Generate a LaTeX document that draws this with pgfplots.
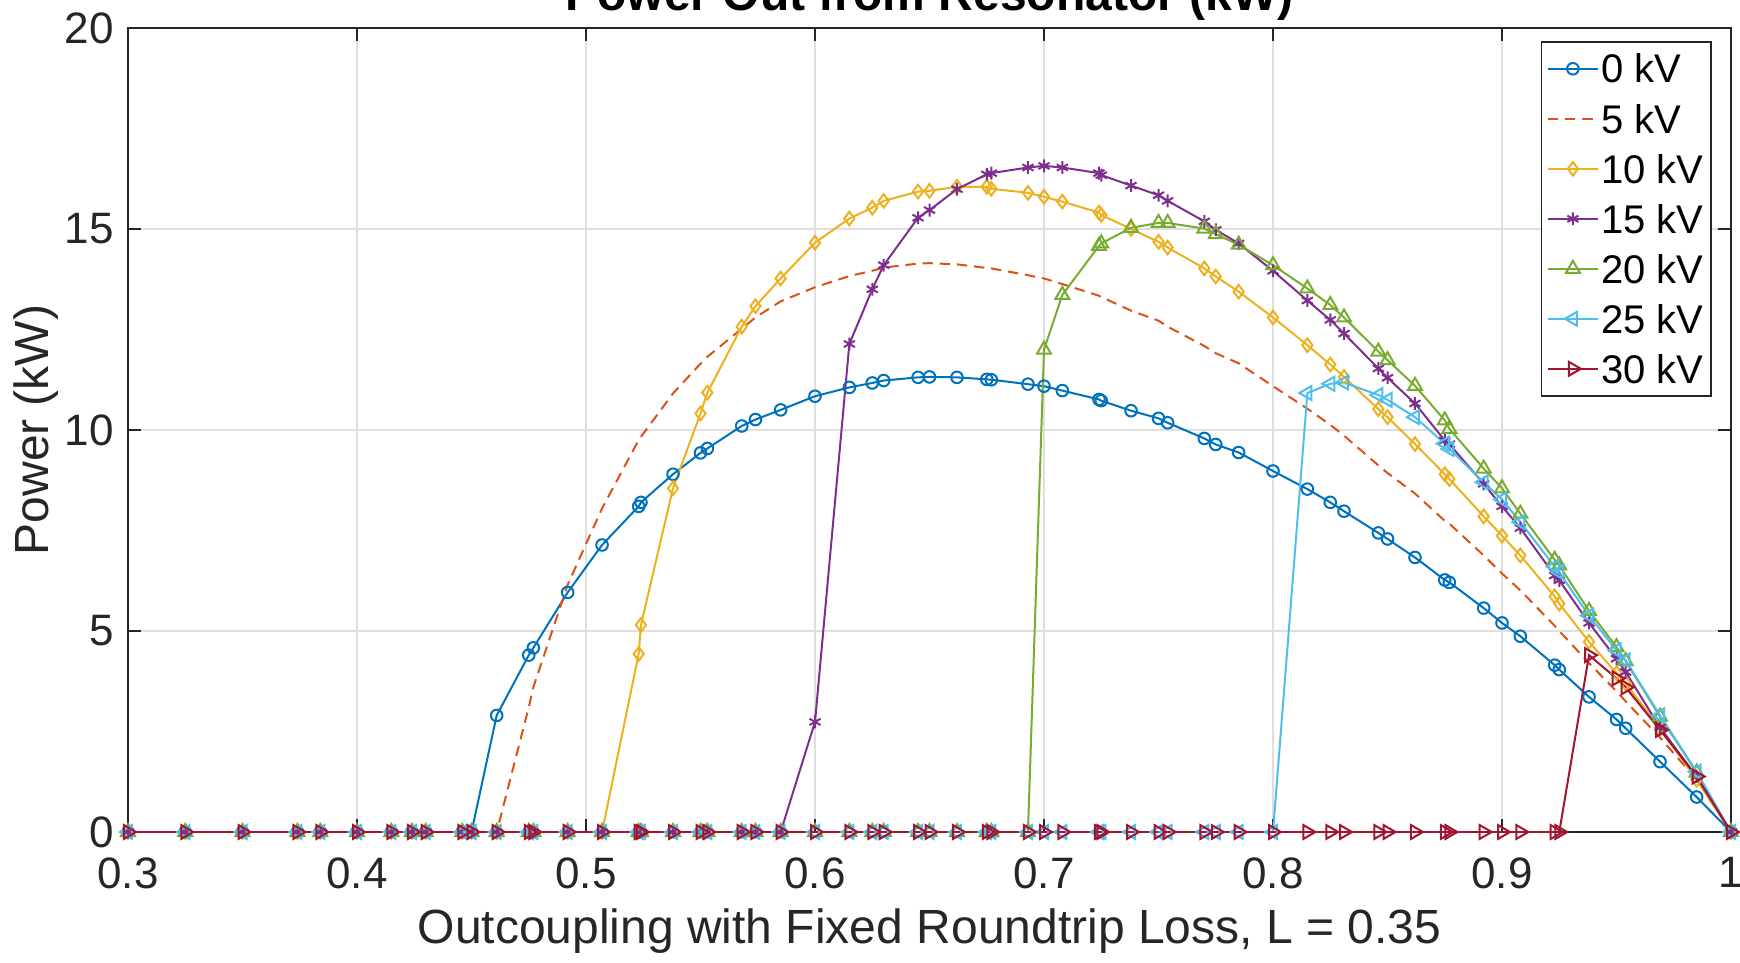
\documentclass[border=0pt]{standalone}
\usepackage{fontspec}
\setmainfont{Liberation Sans}
\usepackage{pgfplots}
\pgfplotsset{compat=1.18}
\usepackage{pgfplotstable}
\usetikzlibrary{calc}
\definecolor{c1}{RGB}{0,114,189}
\definecolor{c2}{RGB}{217,83,25}
\definecolor{c3}{RGB}{237,177,32}
\definecolor{c4}{RGB}{126,47,142}
\definecolor{c5}{RGB}{119,172,48}
\definecolor{c6}{RGB}{77,190,238}
\definecolor{c7}{RGB}{162,20,47}
\definecolor{axc}{RGB}{38,38,38}
\definecolor{gridc}{RGB}{223,223,223}
\pgfplotstableread{
x y0 y5 y10 y15 y20 y25 y30
0.300 0 0 0 0 0 0 0
0.325 0 0 0 0 0 0 0
0.350 0 0 0 0 0 0 0
0.374 0 0 0 0 0 0 0
0.384 0 0 0 0 0 0 0
0.400 0 0 0 0 0 0 0
0.415 0 0 0 0 0 0 0
0.424 0 0 0 0 0 0 0
0.430 0 0 0 0 0 0 0
0.446 0 0 0 0 0 0 0
0.450 0 0 0 0 0 0 0
0.461 2.90 0 0 0 0 0 0
0.475 4.40 3.10 0 0 0 0 0
0.477 4.58 3.60 0 0 0 0 0
0.492 5.96 6.15 0 0 0 0 0
0.507 7.14 8.05 0 0 0 0 0
0.523 8.10 9.75 4.43 0 0 0 0
0.524 8.20 9.83 5.15 0 0 0 0
0.538 8.90 10.91 8.55 0 0 0 0
0.550 9.43 11.65 10.41 0 0 0 0
0.553 9.54 11.82 10.93 0 0 0 0
0.568 10.10 12.52 12.57 0 0 0 0
0.574 10.26 12.80 13.08 0 0 0 0
0.585 10.50 13.20 13.77 0 0 0 0
0.600 10.84 13.55 14.66 2.74 0 0 0
0.615 11.06 13.83 15.26 12.14 0 0 0
0.625 11.17 13.96 15.53 13.50 0 0 0
0.630 11.23 14.04 15.70 14.10 0 0 0
0.645 11.31 14.14 15.93 15.28 0 0 0
0.650 11.32 14.15 15.95 15.47 0 0 0
0.662 11.31 14.12 16.05 15.99 0 0 0
0.675 11.26 14.03 16.05 16.36 0 0 0
0.677 11.25 14.02 16.00 16.39 0 0 0
0.693 11.14 13.85 15.90 16.53 0 0 0
0.700 11.09 13.77 15.80 16.57 12.00 0 0
0.708 10.98 13.63 15.68 16.53 13.36 0 0
0.724 10.76 13.34 15.41 16.39 14.58 0 0
0.725 10.73 13.31 15.35 16.34 14.64 0 0
0.738 10.48 12.97 15.00 16.08 15.03 0 0
0.750 10.29 12.72 14.68 15.84 15.15 0 0
0.754 10.18 12.57 14.54 15.70 15.15 0 0
0.770 9.79 12.09 14.02 15.19 15.01 0 0
0.775 9.64 11.91 13.82 14.98 14.87 0 0
0.785 9.44 11.66 13.44 14.64 14.61 0 0
0.800 8.98 11.09 12.80 13.96 14.10 0 0
0.815 8.53 10.53 12.11 13.22 13.52 10.92 0
0.825 8.20 10.13 11.63 12.74 13.11 11.15 0
0.831 7.98 9.86 11.32 12.40 12.80 11.18 0
0.846 7.44 9.12 10.52 11.53 11.95 10.87 0
0.850 7.29 8.93 10.32 11.30 11.74 10.75 0
0.862 6.83 8.42 9.65 10.66 11.10 10.32 0
0.875 6.27 7.74 8.90 9.74 10.24 9.66 0
0.877 6.21 7.67 8.78 9.65 10.03 9.53 0
0.892 5.57 6.88 7.85 8.66 9.04 8.70 0
0.900 5.20 6.43 7.37 8.10 8.55 8.27 0
0.908 4.87 6.01 6.88 7.56 7.92 7.71 0
0.923 4.15 5.13 5.86 6.38 6.77 6.60 0
0.925 4.04 5.00 5.68 6.26 6.63 6.46 0
0.938 3.36 4.20 4.73 5.20 5.50 5.38 4.40
0.950 2.80 3.50 3.95 4.31 4.60 4.52 3.82
0.954 2.58 3.25 3.70 3.98 4.25 4.27 3.60
0.969 1.75 2.35 2.58 2.60 2.87 2.90 2.54
0.985 0.87 1.30 1.30 1.38 1.48 1.50 1.38
1.000 0 0 0 0 0 0 0
}\data
\begin{document}
\begin{tikzpicture}
\begin{axis}[name=ax, scale only axis, width=400.75pt, height=201pt,
  xmin=0.3, xmax=1, ymin=0, ymax=20,
  xtick={0.3,0.4,0.5,0.6,0.7,0.8,0.9,1},
  xticklabels={0.3,0.4,0.5,0.6,0.7,0.8,0.9,1},
  ytick={0,5,10,15,20}, yticklabels={0,5,10,15,20},
  /pgf/number format/assume math mode=true,
  tick align=inside, major tick length=3.3pt,
  ticklabel style={font=\fontsize{11}{13}\selectfont, text=axc},
  xticklabel style={yshift=-2.8pt},
  grid=major, major grid style={line width=0.3pt, draw=gridc},
  axis line style={line width=0.4pt, draw=axc},
  tick style={line width=0.4pt, draw=axc},
  xlabel={Outcoupling with Fixed Roundtrip Loss, L = 0.35},
  ylabel={Power (kW)},
  label style={font=\fontsize{12}{14}\selectfont, text=axc},
  xlabel style={at={(axis description cs:0.5,-0.1235)}, anchor=center},
  ylabel style={at={(axis description cs:-0.0574,0.5)}, anchor=center},
  legend style={at={(1,1)}, anchor=north east, xshift=-4.75pt, yshift=-3.25pt,
    draw=axc, line width=0.4pt, fill=white, font=\fontsize{10}{12}\selectfont,
    inner xsep=1.3pt, inner ysep=0.5pt,
    nodes={inner xsep=0.6pt, inner ysep=0pt, text height=9.8pt, text depth=2.7pt}},
  legend cell align=left,
  legend image code/.code={\draw[mark repeat=2,mark phase=2] plot coordinates {(0cm,0cm) (0.22cm,0cm) (0.44cm,0cm)};},
  every axis plot/.append style={line width=0.5pt},
]
\addplot[c1, mark=o, mark size=1.45pt] table[x=x,y=y0]{\data};
\addlegendentry{0 kV}
\addplot[c2, dash pattern=on 2.6pt off 1.7pt] table[x=x,y=y5]{\data};
\addlegendentry{5 kV}
\addplot[c3, mark=diamond, mark size=1.7pt] table[x=x,y=y10]{\data};
\addlegendentry{10 kV}
\addplot[c4, mark=asterisk, mark size=1.6pt] table[x=x,y=y15]{\data};
\addlegendentry{15 kV}
\addplot[c5, mark=triangle, mark size=2pt] table[x=x,y=y20]{\data};
\addlegendentry{20 kV}
\addplot[c6, mark=triangle, mark size=2pt, mark options={rotate=90}] table[x=x,y=y25]{\data};
\addlegendentry{25 kV}
\addplot[c7, mark=triangle, mark size=2pt, mark options={rotate=-90}] table[x=x,y=y30]{\data};
\addlegendentry{30 kV}
\end{axis}
\node[font=\bfseries\fontsize{12}{14}\selectfont, text=black, anchor=base] at ($(ax.north)+(0,4.25pt)$) {Power Out from Resonator (kW)};
\pgfresetboundingbox
\path[use as bounding box] ($(ax.south west)+(-32pt,-32.5pt)$) rectangle ($(ax.north east)+(2.25pt,7pt)$);
\end{tikzpicture}
\end{document}
